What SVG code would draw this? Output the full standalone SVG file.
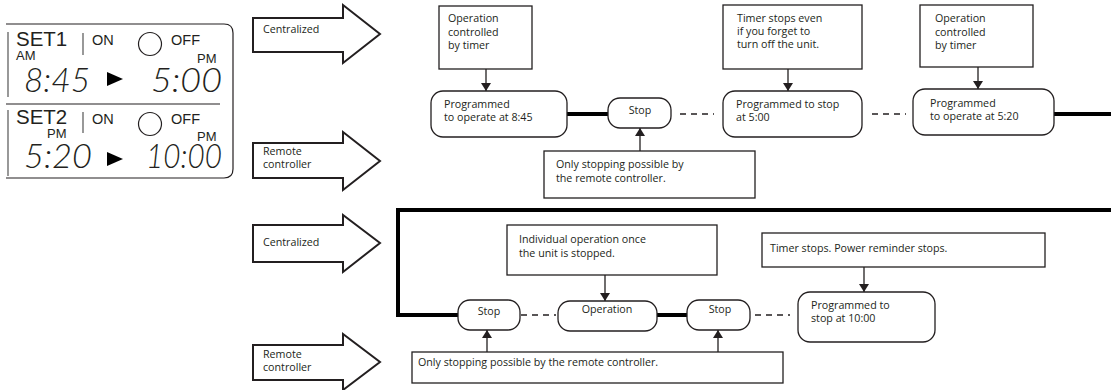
<svg xmlns="http://www.w3.org/2000/svg" width="1111" height="390" viewBox="0 0 1111 390">
<defs>
<marker id="ah" viewBox="0 0 8 10" refX="8" refY="5" markerWidth="8" markerHeight="10" markerUnits="userSpaceOnUse" orient="auto">
<path d="M0,0 L8,5 L0,10 z" fill="#231f20"/>
</marker>
<style>
.t{font-family:"Open Sans","Noto Sans","Liberation Sans",sans-serif;font-size:10.7px;fill:#231f20}
.c{text-anchor:middle}
.box{fill:#fff;stroke:#231f20;stroke-width:1.3}
.big{fill:#fff;stroke:#231f20;stroke-width:2;stroke-linejoin:miter}
.thick{fill:none;stroke:#000;stroke-width:4}
.dash{fill:none;stroke:#231f20;stroke-width:1.5;stroke-dasharray:6 5}
.arr{fill:none;stroke:#231f20;stroke-width:1.3;marker-end:url(#ah)}
.lcd{font-family:"Liberation Sans",Arial,sans-serif;fill:#231f20}
.seg{font-family:Lato,"DejaVu Sans",sans-serif;font-style:italic;font-weight:300;font-size:33px;fill:#231f20}
.pl{fill:none;stroke:#231f20;stroke-width:1.2}
.bar{fill:none;stroke:#555;stroke-width:1.2}
</style>
</defs>

<g id="timer-panel">
<path class="pl" d="M6,24 H224 Q233,24 233,33 V169 Q233,178 224,178 H6"/>
<path class="pl" d="M6,104 H220"/>
<path class="bar" d="M8,32 V97 M8,110 V176 M83,33 V55 M83,112 V133"/>
<text class="lcd" x="16" y="46" font-size="20.5">SET1</text>
<text class="lcd" x="16" y="59.5" font-size="13">AM</text>
<text class="lcd" x="92" y="45" font-size="14.5">ON</text>
<circle cx="150" cy="44" r="11.5" fill="none" stroke="#231f20" stroke-width="1.2"/>
<text class="lcd" x="171" y="45" font-size="14.5">OFF</text>
<text class="lcd" x="197" y="63" font-size="13">PM</text>
<text class="seg" x="24" y="92" textLength="66" lengthAdjust="spacingAndGlyphs">8:45</text>
<polygon points="107,72 123,79 107,86" fill="#000"/>
<text class="seg" x="151" y="92" textLength="71" lengthAdjust="spacingAndGlyphs">5:00</text>
<text class="lcd" x="16" y="123.5" font-size="20.5">SET2</text>
<text class="lcd" x="47" y="137.5" font-size="13">PM</text>
<text class="lcd" x="92" y="124" font-size="14.5">ON</text>
<circle cx="150" cy="124" r="11.5" fill="none" stroke="#231f20" stroke-width="1.2"/>
<text class="lcd" x="171" y="124" font-size="14.5">OFF</text>
<text class="lcd" x="197" y="140.5" font-size="13">PM</text>
<text class="seg" x="24" y="168" textLength="68" lengthAdjust="spacingAndGlyphs">5:20</text>
<polygon points="107,152 123,159 107,166" fill="#000"/>
<text class="seg" x="146" y="168" textLength="76" lengthAdjust="spacingAndGlyphs">10:00</text>
</g>

<g id="arrow-centralized-1">
<polygon class="big" points="253,18 343,18 343,5 380,34 343,63 343,52 253,52"/>
<text class="t" x="263" y="33">Centralized</text>
</g>
<g id="arrow-remote-1">
<polygon class="big" points="253,143 343,143 343,132 380,161 343,190 343,178 253,178"/>
<text class="t" x="263" y="155">Remote</text>
<text class="t" x="263" y="168">controller</text>
</g>
<g id="arrow-centralized-2">
<polygon class="big" points="253,225 343,225 343,215 380,243 343,272 343,262 253,262"/>
<text class="t" x="263" y="246">Centralized</text>
</g>
<g id="arrow-remote-2">
<polygon class="big" points="253,345 343,345 343,334 380,362 343,390 343,380 253,380"/>
<text class="t" x="263" y="358">Remote</text>
<text class="t" x="263" y="371">controller</text>
</g>

<g id="connectors">
<path class="thick" d="M567,114 H608"/>
<path class="dash" d="M680,114 H714"/>
<path class="dash" d="M872,114 H906"/>
<path class="thick" d="M1054,114 H1111"/>
<path class="thick" d="M1111,210 H398 V315 H458"/>
<path class="dash" d="M521,315 H556"/>
<path class="thick" d="M657,315 H688"/>
<path class="dash" d="M755,315 H790"/>
<path class="arr" d="M486,69 V91"/>
<path class="arr" d="M788,69 V91"/>
<path class="arr" d="M978,67 V89"/>
<path class="arr" d="M640,151 V128"/>
<path class="arr" d="M605,275 V301"/>
<path class="arr" d="M864,267 V292"/>
<path class="arr" d="M487,352 V330"/>
<path class="arr" d="M718,352 V330"/>
</g>

<g id="note-timer-1">
<rect class="box" x="439" y="6" width="93" height="63"/>
<text class="t" x="448" y="22">Operation</text>
<text class="t" x="448" y="35.5">controlled</text>
<text class="t" x="448" y="49">by timer</text>
</g>
<g id="state-operate-845">
<rect class="box" x="431" y="91" width="136" height="46" rx="12"/>
<text class="t" x="444" y="108">Programmed</text>
<text class="t" x="444" y="121">to operate at 8:45</text>
</g>
<g id="state-stop-1">
<rect class="box" x="608" y="98" width="63" height="30" rx="12"/>
<text class="t c" x="640" y="114">Stop</text>
</g>
<g id="note-remote-1">
<rect class="box" x="544" y="151" width="211" height="47"/>
<text class="t" x="556" y="168">Only stopping possible by</text>
<text class="t" x="556" y="182">the remote controller.</text>
</g>
<g id="note-timer-stops">
<rect class="box" x="723" y="5" width="139" height="64"/>
<text class="t" x="737" y="22">Timer stops even</text>
<text class="t" x="737" y="35">if you forget to</text>
<text class="t" x="737" y="48">turn off the unit.</text>
</g>
<g id="state-stop-500">
<rect class="box" x="723" y="91" width="139" height="46" rx="12"/>
<text class="t" x="736" y="108">Programmed to stop</text>
<text class="t" x="736" y="121">at 5:00</text>
</g>
<g id="note-timer-2">
<rect class="box" x="920" y="5" width="113" height="62"/>
<text class="t" x="935" y="22">Operation</text>
<text class="t" x="935" y="35.5">controlled</text>
<text class="t" x="935" y="49">by timer</text>
</g>
<g id="state-operate-520">
<rect class="box" x="913" y="89" width="141" height="46" rx="12"/>
<text class="t" x="930" y="107">Programmed</text>
<text class="t" x="930" y="120">to operate at 5:20</text>
</g>

<g id="note-individual">
<rect class="box" x="507" y="225" width="210" height="50"/>
<text class="t" x="519" y="243">Individual operation once</text>
<text class="t" x="519" y="257">the unit is stopped.</text>
</g>
<g id="state-stop-2">
<rect class="box" x="458" y="300" width="62" height="30" rx="12"/>
<text class="t c" x="489" y="315">Stop</text>
</g>
<g id="state-operation">
<rect class="box" x="558" y="301" width="99" height="30" rx="12"/>
<text class="t c" x="607" y="313">Operation</text>
</g>
<g id="state-stop-3">
<rect class="box" x="687" y="300" width="63" height="30" rx="12"/>
<text class="t c" x="720" y="313">Stop</text>
</g>
<g id="note-remote-2">
<rect class="box" x="412" y="352" width="371" height="31"/>
<text class="t" x="418" y="366">Only stopping possible by the remote controller.</text>
</g>
<g id="note-timer-stops-2">
<rect class="box" x="762" y="233" width="283" height="34"/>
<text class="t" x="770" y="252">Timer stops. Power reminder stops.</text>
</g>
<g id="state-stop-1000">
<rect class="box" x="798" y="292" width="137" height="50" rx="12"/>
<text class="t" x="811" y="309">Programmed to</text>
<text class="t" x="811" y="322">stop at 10:00</text>
</g>
</svg>
